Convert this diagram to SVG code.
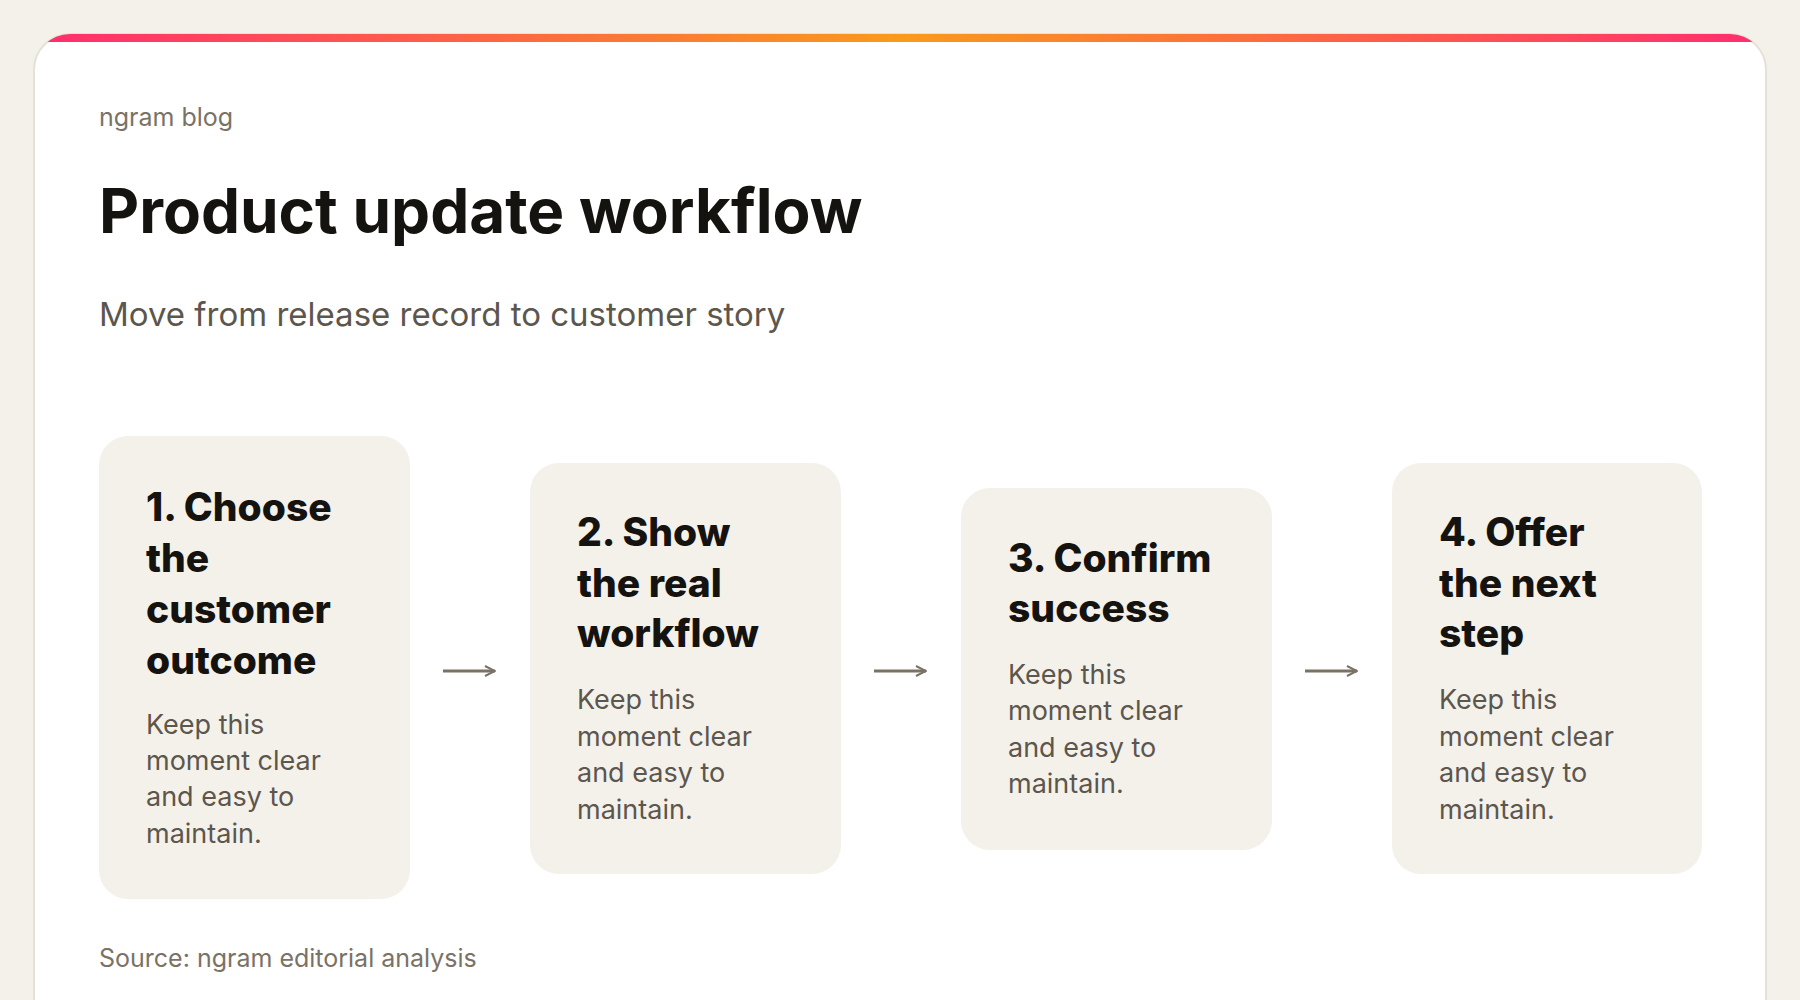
<svg xmlns="http://www.w3.org/2000/svg" width="1800" height="1000" viewBox="0 0 1800 1000">
<defs>
<linearGradient id="g" x1="0" x2="1" y1="0" y2="0">
<stop offset="0" stop-color="#ff2d6f"/><stop offset="0.5" stop-color="#f99a1c"/><stop offset="1" stop-color="#ff2d6f"/>
</linearGradient>
<clipPath id="cc"><rect x="34" y="34" width="1732" height="1010" rx="36"/></clipPath>
<marker id="ah" viewBox="0 0 12 12" refX="11" refY="6" markerWidth="12" markerHeight="12" markerUnits="userSpaceOnUse" orient="auto">
<path d="M1,1 L11,6 L1,11" fill="none" stroke="#7a7265" stroke-width="2"/>
</marker>
</defs>
<style>
text{font-family:Inter,"Liberation Sans",sans-serif}
.box{fill:#f4f1eb}
.h{font-size:39px;font-weight:800;fill:#15130f}
.b{font-size:27px;fill:#5c564d}
.arrow{stroke:#7a7265;stroke-width:3;fill:none}
</style>
<rect width="1800" height="1000" fill="#f4f1eb"/>
<rect x="34" y="34" width="1732" height="1010" rx="36" fill="#fff" stroke="#e6e1d8" stroke-width="2"/>
<rect x="34" y="34" width="1732" height="8" fill="url(#g)" clip-path="url(#cc)"/>
<text x="99" y="126" font-size="25" fill="#7a7265">ngram blog</text>
<text x="99" y="233" font-size="62" font-weight="700" fill="#15130f">Product update workflow</text>
<text x="99" y="326" font-size="33" fill="#5c564d">Move from release record to customer story</text>
<g id="n1"><rect class="box" x="99" y="436" width="311" height="463" rx="29"/>
<text class="h" x="146"><tspan x="146" y="521">1. Choose</tspan><tspan x="146" y="572">the</tspan><tspan x="146" y="623">customer</tspan><tspan x="146" y="674">outcome</tspan></text>
<text class="b"><tspan x="146" y="734">Keep this</tspan><tspan x="146" y="770">moment clear</tspan><tspan x="146" y="806">and easy to</tspan><tspan x="146" y="843">maintain.</tspan></text></g>
<g id="n2"><rect class="box" x="530" y="463" width="311" height="411" rx="29"/>
<text class="h"><tspan x="577" y="546">2. Show</tspan><tspan x="577" y="597">the real</tspan><tspan x="577" y="647">workflow</tspan></text>
<text class="b"><tspan x="577" y="709">Keep this</tspan><tspan x="577" y="746">moment clear</tspan><tspan x="577" y="782">and easy to</tspan><tspan x="577" y="819">maintain.</tspan></text></g>
<g id="n3"><rect class="box" x="961" y="488" width="311" height="362" rx="29"/>
<text class="h"><tspan x="1008" y="572">3. Confirm</tspan><tspan x="1008" y="622">success</tspan></text>
<text class="b"><tspan x="1008" y="684">Keep this</tspan><tspan x="1008" y="720">moment clear</tspan><tspan x="1008" y="757">and easy to</tspan><tspan x="1008" y="793">maintain.</tspan></text></g>
<g id="n4"><rect class="box" x="1392" y="463" width="310" height="411" rx="29"/>
<text class="h"><tspan x="1439" y="546">4. Offer</tspan><tspan x="1439" y="597">the next</tspan><tspan x="1439" y="647">step</tspan></text>
<text class="b"><tspan x="1439" y="709">Keep this</tspan><tspan x="1439" y="746">moment clear</tspan><tspan x="1439" y="782">and easy to</tspan><tspan x="1439" y="819">maintain.</tspan></text></g>
<g id="connectors">
<line class="arrow" x1="443" y1="671" x2="495" y2="671" marker-end="url(#ah)"/>
<line class="arrow" x1="874" y1="671" x2="926" y2="671" marker-end="url(#ah)"/>
<line class="arrow" x1="1305" y1="671" x2="1357" y2="671" marker-end="url(#ah)"/>
</g>
<text x="99" y="967" font-size="25" fill="#7a7265">Source: ngram editorial analysis</text>
</svg>
